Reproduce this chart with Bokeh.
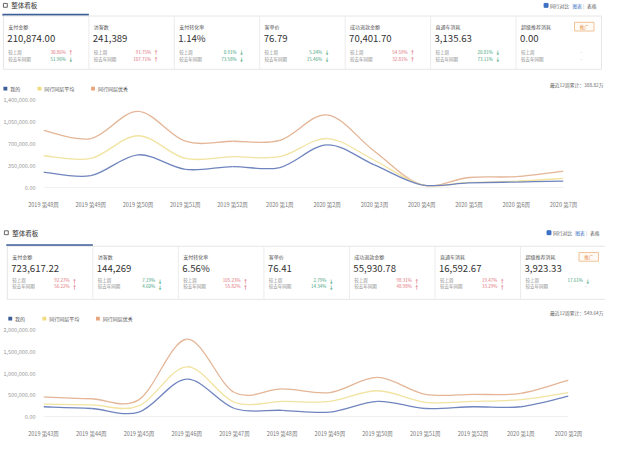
from bokeh.plotting import figure
from bokeh.models import Range1d, ColumnDataSource, FixedTicker, NumeralTickFormatter
from bokeh.layouts import column
from bokeh.embed import file_html
from bokeh.resources import INLINE
from bokeh.core.properties import value

FONT = "Noto Sans CJK SC"

# ---------------- data: panel 1 ----------------
card_titles = ["支付金额", "访客数", "支付转化率", "客单价", "成功退款金额", "直通车消耗", "超级推荐消耗"]
p1_values = ["210,874.00", "241,389", "1.14%", "76.79", "70,401.70", "3,135.63", "0.00"]
p1_wow = ["30.86%", "91.75%", "0.91%", "5.24%", "54.59%", "20.81%", "-"]
p1_wow_dir = ["up", "up", "down", "down", "up", "down", ""]
p1_yoy = ["51.96%", "107.71%", "73.58%", "15.46%", "32.81%", "73.11%", "-"]
p1_yoy_dir = ["down", "up", "down", "down", "up", "down", ""]
p1_total = "最近12周累计：388.82万"
p1_weeks = ["2019 第48周", "2019 第49周", "2019 第50周", "2019 第51周", "2019 第52周", "2020 第1周",
            "2020 第2周", "2020 第3周", "2020 第4周", "2020 第5周", "2020 第6周", "2020 第7周"]
p1_mine = [245000, 188000, 520000, 289000, 332000, 318000, 678000, 360000, 43000, 72000, 87000, 100000]
p1_avg = [505000, 462000, 823000, 462000, 490000, 490000, 779000, 433000, 43000, 80000, 100000, 144000]
p1_best = [909000, 779000, 1210000, 736000, 736000, 750000, 1155000, 577000, 43000, 159000, 173000, 260000]
p1_yticks = [0, 350000, 700000, 1050000, 1400000]

# ---------------- data: panel 2 ----------------
p2_values = ["723,617.22", "144,269", "6.56%", "76.41", "55,930.78", "16,592.67", "3,923.33"]
p2_wow = ["92.27%", "7.19%", "105.23%", "2.79%", "98.31%", "19.47%", "17.61%"]
p2_wow_dir = ["up", "down", "up", "down", "up", "up", "down"]
p2_yoy = ["56.22%", "4.60%", "55.82%", "14.34%", "48.98%", "33.29%", "-"]
p2_yoy_dir = ["up", "down", "up", "down", "up", "up", ""]
p2_total = "最近12周累计：549.64万"
p2_weeks = ["2019 第43周", "2019 第44周", "2019 第45周", "2019 第46周", "2019 第47周", "2019 第48周",
            "2019 第49周", "2019 第50周", "2019 第51周", "2019 第52周", "2020 第1周", "2020 第2周"]
p2_mine = [224000, 184000, 102000, 857000, 184000, 143000, 102000, 347000, 184000, 224000, 224000, 469000]
p2_avg = [286000, 265000, 245000, 1143000, 327000, 347000, 347000, 592000, 327000, 347000, 388000, 551000]
p2_best = [449000, 408000, 388000, 1776000, 551000, 633000, 551000, 898000, 510000, 510000, 531000, 837000]
p2_yticks = [0, 500000, 1000000, 1500000, 2000000]

series_names = ["我的", "同行同层平均", "同行同层优秀"]
series_colors = ["#7085bf", "#f1e3a0", "#e4b596"]
legend_colors = ["#3d5f98", "#f0dc80", "#e9a57c"]

RED = "#e0707a"
GREEN = "#3fa27a"
GREY = "#8a8a8a"
DARK = "#333333"
TABBLUE = "#3d5f98"

W = 605
REFW = 621


def base_fig(y0, y1, height):
    f = figure(width=W, height=height, x_range=Range1d(0, REFW), y_range=Range1d(y1, y0),
               output_backend="svg", toolbar_location=None, min_border=0, frame_align=False)
    f.xaxis.visible = False
    f.yaxis.visible = False
    f.grid.visible = False
    f.outline_line_color = None
    f.background_fill_color = "white"
    f.border_fill_color = "white"
    return f


def txt(f, x, y, t, size, color, align="left", style="normal"):
    f.text(x=[x], y=[y], text=[t], text_font=value(FONT), text_font_size=size,
           text_color=color, text_align=align, text_baseline="middle", text_font_style=style)


def panel(f, g, values, wow, wow_dir, yoy, yoy_dir, total):
    # header
    f.rect(x=[g["hx"]], y=[g["hy"]], width=4, height=4, fill_color=None, line_color="#666666", line_width=1)
    txt(f, g["hx"] + 6, g["hy"], "整体看板", "6.5px", DARK)
    # compare checkbox
    f.rect(x=[g["cbx"]], y=[g["hy"]], width=4, height=4, fill_color="#3b6fc4", line_color="#3b6fc4")
    txt(f, g["cbx"] + 4, g["hy"], "同行对比", "4.8px", "#555555")
    txt(f, g["cbx"] + 27, g["hy"], "图表", "4.8px", "#3b6fc4")
    txt(f, g["cbx"] + 38, g["hy"], "|", "4.8px", "#aaaaaa")
    txt(f, g["cbx"] + 42, g["hy"], "表格", "4.8px", "#555555")
    # tab underline and container
    cw = g["cw"]
    x0 = g["x0"]
    f.quad(left=[x0 - 1], right=[x0 + cw], top=[g["top"] - 2.2], bottom=[g["top"] - 0.2],
           fill_color=TABBLUE, line_color=None)
    f.quad(left=[x0], right=[x0 + 7 * cw], top=[g["top"]], bottom=[g["bot"]],
           fill_color=None, line_color="#e6e6e6", line_width=1)
    for i in range(1, 7):
        f.segment(x0=[x0 + i * cw], y0=[g["top"]], x1=[x0 + i * cw], y1=[g["bot"]],
                  line_color="#ececec", line_width=1)
    for i in range(7):
        cx = x0 + i * cw
        txt(f, cx + 5, g["ty"], card_titles[i], "5px", "#555555")
        txt(f, cx + 4, g["vy"], values[i], "9.6px", DARK)
        txt(f, cx + 5, g["ly1"], "较上周", "4.5px", GREY)
        txt(f, cx + 5, g["ly2"], "较去年同期", "4.5px", GREY)
        for (lab, d, yy) in ((wow[i], wow_dir[i], g["ly1"]), (yoy[i], yoy_dir[i], g["ly2"])):
            col = RED if d == "up" else (GREEN if d == "down" else GREY)
            if d == "":
                txt(f, cx + 67, yy, lab, "4.5px", GREY, align="center")
            else:
                txt(f, cx + 64, yy, lab, "4.5px", col, align="right")
                txt(f, cx + 69, yy, "↑" if d == "up" else "↓", "5px", col, align="center", style="bold")
    # 推广 button on last card
    bx = x0 + 6 * cw + 70
    f.quad(left=[bx - 10], right=[bx + 10], top=[g["ty"] - 4.5], bottom=[g["ty"] + 4.5],
           fill_color="#fffaf4", line_color="#f0c49a", line_width=1)
    txt(f, bx, g["ty"], "推广", "4.5px", "#e8893c", align="center")
    # total text
    txt(f, 619, g["toty"], total, "4.8px", "#666666", align="right")
    # legend
    for k in range(3):
        lx = g["legx"][k]
        f.rect(x=[lx], y=[g["legy"]], width=4, height=4, fill_color=legend_colors[k], line_color=None)
        txt(f, lx + 5, g["legy"], series_names[k], "5px", "#555555")


def bez(xs, ys):
    n = len(xs)
    d = dict(x0=[], y0=[], x1=[], y1=[], cx0=[], cy0=[], cx1=[], cy1=[])
    for i in range(n - 1):
        xm, ym = (xs[i - 1], ys[i - 1]) if i > 0 else (xs[i], ys[i])
        xp, yp = (xs[i + 2], ys[i + 2]) if i + 2 < n else (xs[i + 1], ys[i + 1])
        d["x0"].append(xs[i]); d["y0"].append(ys[i])
        d["x1"].append(xs[i + 1]); d["y1"].append(ys[i + 1])
        d["cx0"].append(xs[i] + (xs[i + 1] - xm) / 6.0)
        d["cy0"].append(ys[i] + (ys[i + 1] - ym) / 6.0)
        d["cx1"].append(xs[i + 1] - (xp - xs[i]) / 6.0)
        d["cy1"].append(ys[i + 1] - (yp - ys[i]) / 6.0)
    return ColumnDataSource(d)


def chart(height, weeks, series, yticks, bl, br, bt, bb):
    f = figure(width=W, height=height, x_range=Range1d(0, len(weeks) - 1),
               y_range=Range1d(yticks[0], yticks[-1]),
               output_backend="svg", toolbar_location=None, frame_align=False,
               min_border_left=bl, min_border_right=br, min_border_top=bt, min_border_bottom=bb)
    f.grid.visible = False
    f.outline_line_color = None
    f.background_fill_color = "white"
    f.border_fill_color = "white"
    xs = list(range(len(weeks)))
    for k in (2, 1, 0):
        f.bezier(x0="x0", y0="y0", x1="x1", y1="y1", cx0="cx0", cy0="cy0", cx1="cx1", cy1="cy1",
                 source=bez(xs, series[k]), line_color=series_colors[k], line_width=1.3)
    xa = f.xaxis[0]
    xa.ticker = FixedTicker(ticks=xs)
    xa.major_label_overrides = {i: w for i, w in enumerate(weeks)}
    xa.major_label_text_font = FONT
    xa.major_label_text_font_size = "5.5px"
    xa.major_label_text_color = "#777777"
    xa.axis_line_color = "#f0f0f0"
    xa.major_tick_line_color = None
    xa.minor_tick_line_color = None
    xa.major_label_standoff = 7
    ya = f.yaxis[0]
    ya.ticker = FixedTicker(ticks=yticks)
    ya.formatter = NumeralTickFormatter(format="0,0.00")
    ya.major_label_text_font = FONT
    ya.major_label_text_font_size = "5.5px"
    ya.major_label_text_color = "#999999"
    ya.axis_line_color = None
    ya.major_tick_line_color = None
    ya.minor_tick_line_color = None
    ya.major_label_standoff = 2
    return f


g1 = dict(hx=5, hy=5, cbx=560, cw=87.7, x0=3, top=16, bot=71, ty=27, vy=39, ly1=53, ly2=60,
          toty=87, legy=91, legx=[5, 40, 95])
A = base_fig(0, 97, 94)
panel(A, g1, p1_values, p1_wow, p1_wow_dir, p1_yoy, p1_yoy_dir, p1_total)

B = chart(117, p1_weeks, [p1_mine, p1_avg, p1_best], p1_yticks, 34, 42, 5, 17)

g2 = dict(hx=6, hy=240 - 218, cbx=563, cw=87.8, x0=7, top=254 - 218, bot=309 - 218, ty=265 - 218,
          vy=277 - 218, ly1=289 - 218, ly2=295.5 - 218, toty=323 - 218, legy=329 - 218, legx=[10, 45, 100])
C = base_fig(0, 116, 112)
panel(C, g2, p2_values, p2_wow, p2_wow_dir, p2_yoy, p2_yoy_dir, p2_total)

D = chart(117, p2_weeks, [p2_mine, p2_avg, p2_best], p2_yticks, 39, 37, 6, 17)

layout = column(A, B, C, D, spacing=0)
open("out.html", "w").write(file_html(layout, INLINE))
